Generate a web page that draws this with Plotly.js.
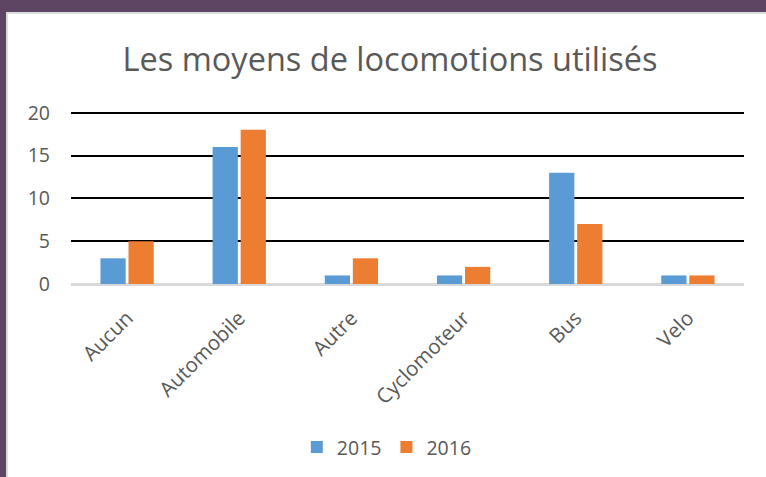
<!DOCTYPE html>
<html>
<head>
<meta charset="utf-8">
<script src="https://cdn.plot.ly/plotly-3.0.1.min.js"></script>
<style>
  html, body { margin: 0; padding: 0; background: #ffffff; }
  #wrap { position: relative; width: 766px; height: 477px; overflow: hidden; background: #ffffff; }
  #topbar { position: absolute; left: 0; top: 0; width: 766px; height: 12px; background: #5d4563; }
  #topline { position: absolute; left: 7px; top: 12px; width: 759px; height: 2px; background: #dcdcdc; }
  #leftbar { position: absolute; left: 0; top: 0; width: 6px; height: 477px; background: #5d4563; }
  #leftline { position: absolute; left: 6px; top: 12px; width: 2px; height: 465px; background: #dcdcdc; }
  #chart { position: absolute; left: 0; top: 0; width: 766px; height: 477px; }
</style>
</head>
<body>
<div id="wrap">
  <div id="topbar"></div>
  <div id="topline"></div>
  <div id="leftbar"></div>
  <div id="leftline"></div>
  <div id="chart"></div>
</div>
<script>
const categories = ["Aucun", "Automobile", "Autre", "Cyclomoteur", "Bus", "Velo"];
const values2015 = [3, 16, 1, 1, 13, 1];
const values2016 = [5, 18, 3, 2, 7, 1];
const seriesNames = ["2015", "2016"];
const yTicks = [0, 5, 10, 15, 20];

const textColor = "#595959";
const fontFamily = "'Open Sans', 'Noto Sans', sans-serif";

const data = [
  { type: "bar", name: seriesNames[0], x: categories, y: values2015,
    marker: { color: "#5b9bd5", line: { width: 0 } } },
  { type: "bar", name: seriesNames[1], x: categories, y: values2016,
    marker: { color: "#ed7d31", line: { width: 0 } } }
];

const layout = {
  width: 766, height: 477,
  paper_bgcolor: "rgba(0,0,0,0)",
  plot_bgcolor: "rgba(0,0,0,0)",
  margin: { l: 71, r: 22, t: 111, b: 193 },
  barmode: "group",
  bargap: 0.5,
  bargroupgap: 0.1,
  title: {
    text: "Les moyens de locomotions utilisés",
    font: { family: fontFamily, size: 32.5, color: textColor },
    x: 0.474, xref: "paper", xanchor: "center",
    y: 0.876, yref: "container", yanchor: "middle"
  },
  font: { family: fontFamily, color: textColor },
  xaxis: {
    type: "category",
    tickangle: -45,
    tickfont: { family: fontFamily, size: 20.5, color: textColor },
    showgrid: false,
    showline: true, linecolor: "#d9d9d9", linewidth: 2,
    ticks: "", ticklabelstandoff: 12,
    zeroline: false
  },
  yaxis: {
    range: [0, 20.2],
    tickvals: yTicks,
    tickfont: { family: fontFamily, size: 19.5, color: textColor },
    showgrid: true, gridcolor: "#000000", gridwidth: 2,
    zeroline: true, zerolinecolor: "#d9d9d9", zerolinewidth: 2,
    showline: false, ticks: "", ticklabelstandoff: 20
  },
  legend: {
    orientation: "h",
    x: 0.505, xanchor: "center", xref: "container",
    y: 0.062, yanchor: "middle", yref: "container",
    font: { family: fontFamily, size: 19.5, color: textColor },
    itemwidth: 30
  },
  showlegend: true
};

Plotly.newPlot("chart", data, layout, { displayModeBar: false, staticPlot: true });
</script>
</body>
</html>
